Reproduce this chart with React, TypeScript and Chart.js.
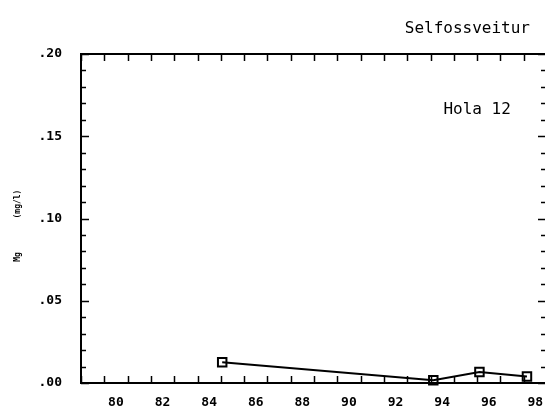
import React, { useEffect, useRef } from "react";
import { Chart, registerables } from "chart.js";

Chart.register(...registerables);

// ---- data ----
const TITLE = "Selfossveitur";
const SITE_LABEL = "Hola 12";
const Y_TITLE = "Mg       (mg/l)   ";
const YEARS = [84.56, 93.62, 95.6, 97.64];
const MG = [0.0126, 0.0017, 0.0067, 0.0039];
const X_TICKS = [80, 82, 84, 86, 88, 90, 92, 94, 96, 98];
const Y_TICKS = [0, 0.05, 0.1, 0.15, 0.2];
const X_MIN = 78.5;
const X_MAX = 98.5;
const Y_MIN = 0;
const Y_MAX = 0.2;
const X_MINOR_STEP = 1;
const Y_MINOR_STEP = 0.01;
const SITE_LABEL_POS = { x: 95.5, y: 0.166 };

const FONT = "'DejaVu Sans Mono', monospace";

const framePlugin = {
  id: "frame",
  afterDraw(chart: any) {
    const { ctx, chartArea: a, scales } = chart;
    const xs = scales.x;
    const ys = scales.y;
    ctx.save();
    ctx.strokeStyle = "#000";
    ctx.lineWidth = 2;
    ctx.beginPath();
    ctx.moveTo(a.left - 1, a.top);
    ctx.lineTo(a.right, a.top);
    ctx.stroke();

    ctx.lineWidth = 1.5;
    ctx.beginPath();
    const nx = Math.round((X_MAX - X_MIN) / X_MINOR_STEP);
    for (let i = 0; i <= nx; i++) {
      const v = X_MIN + i * X_MINOR_STEP;
      const px = Math.round(xs.getPixelForValue(v)) + 0.5;
      ctx.moveTo(px, a.bottom);
      ctx.lineTo(px, a.bottom - 7);
      ctx.moveTo(px, a.top);
      ctx.lineTo(px, a.top + 7);
    }
    const ny = Math.round((Y_MAX - Y_MIN) / Y_MINOR_STEP);
    for (let i = 0; i <= ny; i++) {
      const v = Y_MIN + i * Y_MINOR_STEP;
      const major = i % 5 === 0;
      const py = Math.round(ys.getPixelForValue(v)) + 0.5;
      const len = major ? 8 : 5;
      ctx.moveTo(a.left, py);
      ctx.lineTo(a.left + len, py);
      ctx.moveTo(a.right, py);
      ctx.lineTo(a.right - len - 1, py);
    }
    ctx.stroke();

    ctx.fillStyle = "#000";
    ctx.font = `16px ${FONT}`;
    ctx.textAlign = "right";
    ctx.textBaseline = "middle";
    ctx.fillText(TITLE, a.right - 17, a.top - 25);
    ctx.textAlign = "center";
    ctx.fillText(
      SITE_LABEL,
      xs.getPixelForValue(SITE_LABEL_POS.x),
      ys.getPixelForValue(SITE_LABEL_POS.y)
    );
    ctx.restore();
  },
};

export default function App() {
  const ref = useRef<HTMLCanvasElement | null>(null);

  useEffect(() => {
    if (!ref.current) return;
    const chart = new Chart(ref.current, {
      type: "line",
      data: {
        datasets: [
          {
            data: YEARS.map((x, i) => ({ x, y: MG[i] })),
            borderColor: "#000",
            borderWidth: 2,
            pointStyle: "rect",
            pointRadius: 6,
            pointBorderWidth: 2,
            pointBorderColor: "#000",
            pointBackgroundColor: "rgba(0,0,0,0)",
            tension: 0,
            clip: false,
          } as any,
        ],
      },
      options: {
        responsive: false,
        animation: false,
        devicePixelRatio: 1,
        layout: { padding: { left: 0, top: 54, right: 13, bottom: 0 } },
        plugins: {
          legend: { display: false },
          title: { display: false },
          tooltip: { enabled: false },
        },
        scales: {
          x: {
            type: "linear",
            min: X_MIN,
            max: X_MAX,
            grid: { display: false, drawTicks: false },
            border: { display: true, color: "#000", width: 2 },
            ticks: {
              padding: 12,
              color: "#000",
              font: { family: FONT, size: 13, weight: "bold" },
              autoSkip: false,
              maxRotation: 0,
              callback: (v: any) => String(v),
            },
            afterBuildTicks: (s: any) => {
              s.ticks = X_TICKS.map((value) => ({ value }));
            },
            afterFit: (s: any) => {
              s.height = 32;
            },
          },
          y: {
            type: "linear",
            min: Y_MIN,
            max: Y_MAX,
            grid: { display: false, drawTicks: false },
            border: { display: true, color: "#000", width: 2 },
            ticks: {
              padding: 19,
              color: "#000",
              font: { family: FONT, size: 13, weight: "bold" },
              callback: (v: any) => Number(v).toFixed(2).replace(/^0/, ""),
            },
            afterBuildTicks: (s: any) => {
              s.ticks = Y_TICKS.map((value) => ({ value }));
            },
            afterFit: (s: any) => {
              s.width = 81;
            },
            title: {
              display: true,
              text: Y_TITLE,
              color: "#000",
              font: { family: FONT, size: 8, weight: "bold" },
              padding: { top: 13, bottom: 0 },
            },
          },
        },
      },
      plugins: [framePlugin],
    });
    return () => chart.destroy();
  }, []);

  return (
    <div
      style={{
        position: "fixed",
        left: 0,
        top: 0,
        width: 545,
        height: 415,
        overflow: "hidden",
        background: "#fff",
      }}
    >
      <canvas ref={ref} width={560} height={415} style={{ display: "block" }} />
    </div>
  );
}
